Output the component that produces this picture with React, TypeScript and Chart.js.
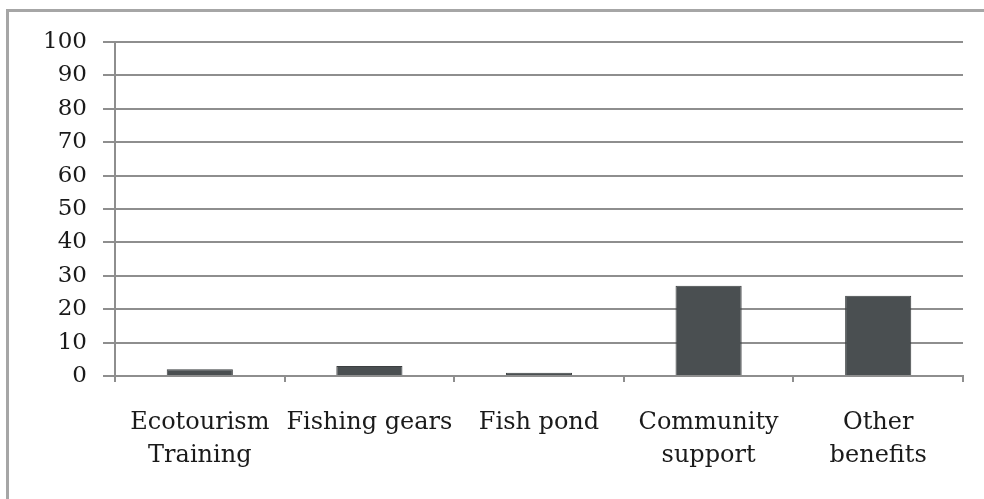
import React, { useEffect, useRef } from "react";
import { Chart, registerables } from "chart.js";

Chart.register(...registerables);

const categories: string[][] = [
  ["Ecotourism", "Training"],
  ["Fishing gears"],
  ["Fish pond"],
  ["Community", "support"],
  ["Other", "benefits"],
];
const values: number[] = [2, 3, 1, 27, 24];
const yTicks: number[] = [0, 10, 20, 30, 40, 50, 60, 70, 80, 90, 100];

const GRID = "#8e8e8e";
const FONT = "'DejaVu Serif', serif";

export default function App() {
  const ref = useRef<HTMLCanvasElement | null>(null);

  useEffect(() => {
    if (!ref.current) return;
    const chart = new Chart(ref.current, {
      type: "bar",
      data: {
        labels: categories,
        datasets: [
          {
            data: values,
            backgroundColor: "#4a4f51",
            borderColor: "#3c3f40",
            borderWidth: 1,
            categoryPercentage: 1,
            barPercentage: 0.39,
          },
        ],
      },
      options: {
        animation: false,
        responsive: false,
        maintainAspectRatio: false,
        layout: { padding: { top: 42, right: 21, left: 0, bottom: 0 } },
        plugins: { legend: { display: false }, tooltip: { enabled: false } },
        scales: {
          x: {
            offset: true,
            afterFit: (s: any) => {
              s.height = 123;
            },
            grid: {
              offset: true,
              drawOnChartArea: false,
              color: GRID,
              lineWidth: 2,
              tickLength: 6,
            },
            border: { display: true, color: GRID, width: 2 },
            ticks: {
              color: "#1a1a1a",
              padding: 24,
              maxRotation: 0,
              autoSkip: false,
              font: { family: FONT, size: 24, lineHeight: 1.375 },
            },
          },
          y: {
            min: 0,
            max: 100,
            afterFit: (s: any) => {
              s.width = 115;
            },
            afterBuildTicks: (s: any) => {
              s.ticks = yTicks.map((v) => ({ value: v }));
            },
            grid: { color: GRID, lineWidth: 2, tickLength: 12 },
            border: { display: true, color: GRID, width: 2 },
            ticks: {
              color: "#1a1a1a",
              padding: 16,
              font: { family: FONT, size: 23 },
            },
          },
        },
      },
    });
    return () => chart.destroy();
  }, []);

  return (
    <div
      style={{
        position: "fixed",
        left: 0,
        top: 0,
        width: 984,
        height: 499,
        background: "#fff",
        overflow: "hidden",
      }}
    >
      <div
        style={{
          position: "absolute",
          left: 6,
          top: 9,
          width: 1000,
          height: 489,
          borderTop: "3px solid #a6a6a6",
          borderLeft: "3px solid #a6a6a6",
          borderBottom: "2px solid #dcdcdc",
        }}
      />
      <canvas
        ref={ref}
        width={984}
        height={499}
        style={{ position: "absolute", left: 0, top: 0 }}
      />
    </div>
  );
}
